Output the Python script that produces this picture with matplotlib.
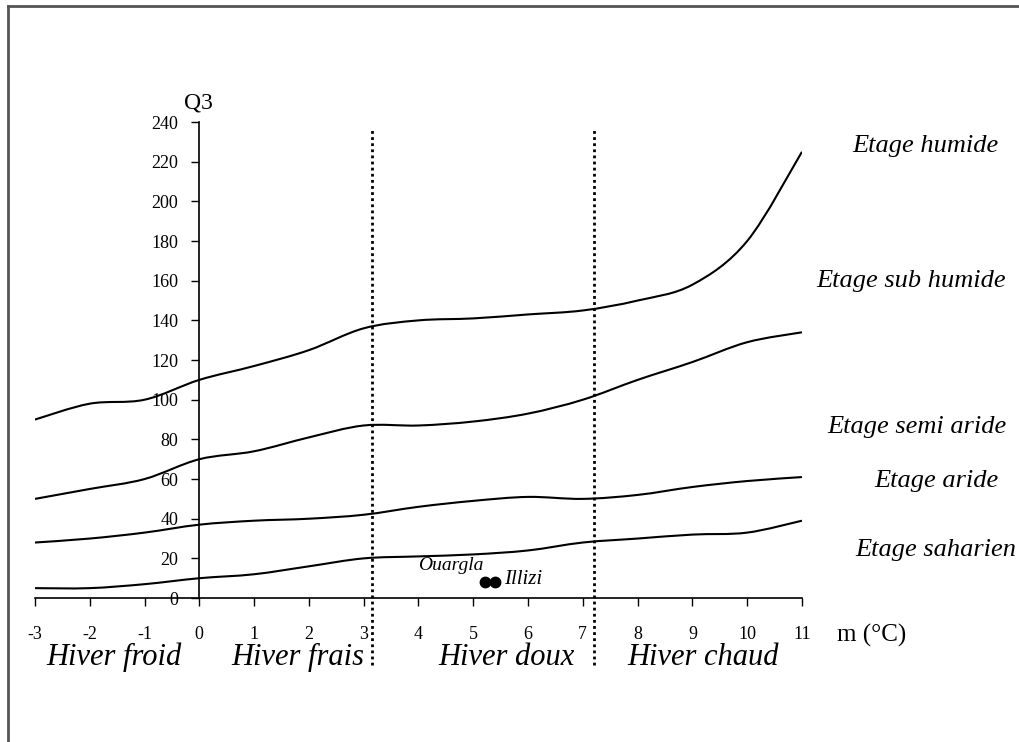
import matplotlib

matplotlib.use("Agg")

import matplotlib.pyplot as plt
import numpy as np
from matplotlib.lines import Line2D
from matplotlib.patches import PathPatch
from matplotlib.path import Path

plt.rcParams["font.family"] = ["Liberation Serif", "DejaVu Serif"]
plt.rcParams["axes.unicode_minus"] = False

# m (°C) at each reading point
m_values = [-3, -2, -1, 0, 1, 2, 3, 4, 5, 6, 7, 8, 9, 10, 11]

# Q3 limits between the bioclimatic stages
limit_humide = [90, 98, 100, 110, 117, 125, 136, 140, 141, 143, 145, 150, 158, 180, 225]
limit_sub_humide = [50, 55, 60, 70, 74, 81, 87, 87, 89, 93, 100, 110, 119, 129, 134]
limit_semi_aride = [28, 30, 33, 37, 39, 40, 42, 46, 49, 51, 50, 52, 56, 59, 61]
limit_aride = [5, 5, 7, 10, 12, 16, 20, 21, 22, 24, 28, 30, 32, 33, 39]

stations = ["Ouargla", "Illizi"]
station_m = [5.21, 5.39]
station_q3 = [8, 8]

winter_limits = [3.15, 7.2]
winter_names = ["Hiver froid", "Hiver frais", "Hiver doux", "Hiver chaud"]
winter_pos = [-1.55, 1.8, 5.6, 9.2]

stage_names = ["Etage humide", "Etage sub humide", "Etage semi aride",
               "Etage aride", "Etage saharien"]
stage_pos = [(13.25, 228), (13.0, 160), (13.1, 86), (13.45, 59), (13.45, 24)]


def smooth_path(xs, ys, tension=6.0):
    # Catmull-Rom curve through the points, as cubic Bezier segments
    pts = np.column_stack([xs, ys]).astype(float)
    verts = [pts[0]]
    codes = [Path.MOVETO]
    n = len(pts)
    for i in range(n - 1):
        p0 = pts[i - 1] if i > 0 else pts[i]
        p1 = pts[i]
        p2 = pts[i + 1]
        p3 = pts[i + 2] if i + 2 < n else pts[i + 1]
        verts += [p1 + (p2 - p0) / tension, p2 - (p3 - p1) / tension, p2]
        codes += [Path.CURVE4] * 3
    return Path(verts, codes)


fig = plt.figure(figsize=(10.19, 7.42), dpi=100)
ax = fig.add_axes([0.0343, 0.194, 0.7527, 0.6415])

for series in [limit_humide, limit_sub_humide, limit_semi_aride, limit_aride]:
    ax.add_patch(PathPatch(smooth_path(m_values, series), facecolor="none",
                           edgecolor="black", lw=1.5))

ax.plot(station_m, station_q3, "o", color="black", ms=7.5)
ax.text(4.0, 16.6, stations[0], fontsize=14, style="italic", ha="left", va="center")
ax.text(5.57, 9.6, stations[1], fontsize=15, style="italic", ha="left", va="center")

for xv in winter_limits:
    ax.plot([xv, xv], [-34, 237], color="black", ls=(0, (1, 1.2)), lw=2,
            clip_on=False)

for name, xv in zip(winter_names, winter_pos):
    ax.text(xv, -30, name, fontsize=22, style="italic", ha="center", va="center")

for name, (xv, yv) in zip(stage_names, stage_pos):
    ax.text(xv, yv, name, fontsize=19, style="italic", ha="center", va="center",
            clip_on=False)

ax.set_xlim(-3, 11)
ax.set_ylim(0, 240)
ax.set_xticks(range(-3, 12))
ax.set_yticks(range(0, 241, 20))
ax.tick_params(axis="both", direction="out", length=6, width=1, labelsize=13)
ax.tick_params(axis="x", pad=14)
ax.tick_params(axis="y", pad=9)
for side in ["top", "right"]:
    ax.spines[side].set_visible(False)
ax.spines["left"].set_position(("data", 0))
ax.spines["left"].set_linewidth(1.2)
ax.spines["bottom"].set_linewidth(1.2)
ax.yaxis.set_ticks_position("left")
ax.patch.set_visible(False)

ax.text(-0.02, 249.6, "Q3", fontsize=17, ha="center", va="center")
fig.text(0.855, 0.143, "m (°C)", fontsize=18, ha="center", va="center")

fig.add_artist(Line2D([0.0075, 0.0075], [0, 0.992], color="#555555", lw=2,
                      transform=fig.transFigure))
fig.add_artist(Line2D([0.0075, 1], [0.992, 0.992], color="#555555", lw=2,
                      transform=fig.transFigure))

fig.savefig("out.png", dpi=100)
